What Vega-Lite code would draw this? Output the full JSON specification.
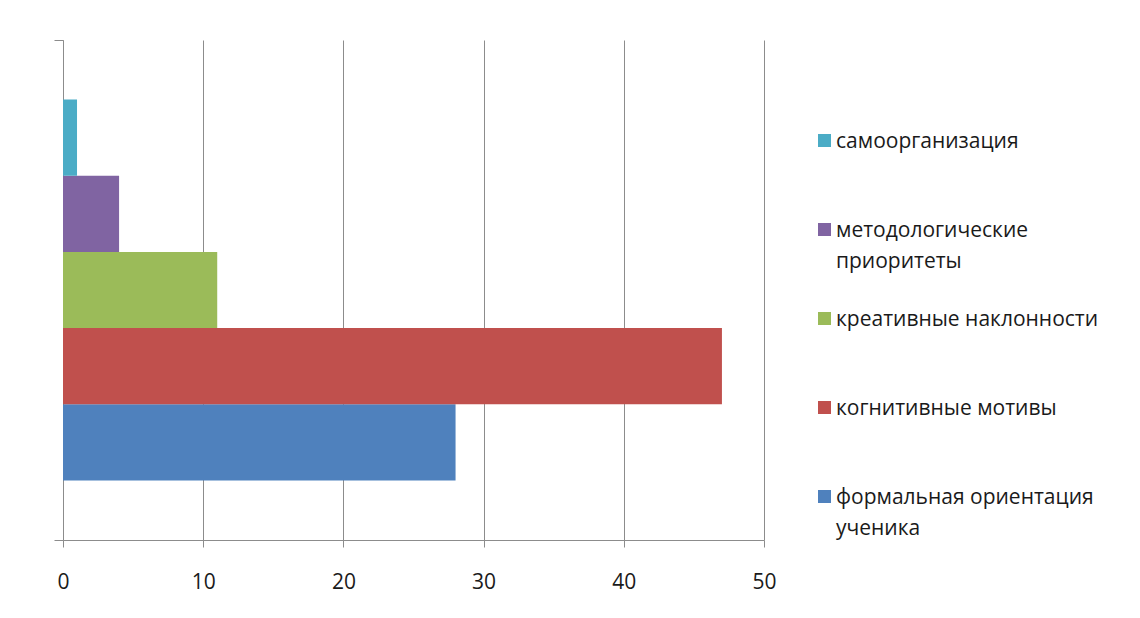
{
  "$schema": "https://vega.github.io/schema/vega-lite/v6.json",
  "width": 701,
  "height": 500,
  "padding": {"left": 53, "top": 39, "right": 0, "bottom": 5},
  "autosize": {"type": "pad"},
  "background": "white",
  "config": {
    "font": "Open Sans",
    "view": {"stroke": null}
  },
  "data": {
    "values": [
      {"grp": "all", "series": "формальная ориентация ученика", "value": 28},
      {"grp": "all", "series": "когнитивные мотивы", "value": 47},
      {"grp": "all", "series": "креативные наклонности", "value": 11},
      {"grp": "all", "series": "методологические приоритеты", "value": 4},
      {"grp": "all", "series": "самоорганизация", "value": 1}
    ]
  },
  "mark": {"type": "bar"},
  "encoding": {
    "x": {
      "field": "value",
      "type": "quantitative",
      "scale": {"domain": [0, 50], "nice": false},
      "axis": {
        "values": [0, 10, 20, 30, 40, 50],
        "title": null,
        "grid": true,
        "gridColor": "#8c8c8c",
        "gridWidth": 1,
        "domainColor": "#8c8c8c",
        "tickColor": "#8c8c8c",
        "tickSize": 7,
        "labelPadding": 24,
        "labelFontSize": 21,
        "labelColor": "#1a1a1a",
        "labelFont": "Open Sans",
        "labelFlush": false
      }
    },
    "y": {
      "field": "grp",
      "type": "nominal",
      "scale": {"paddingInner": 0, "paddingOuter": 0},
      "axis": {
        "title": null,
        "labels": false,
        "tickBand": "extent",
        "tickSize": 9,
        "tickColor": "#8c8c8c",
        "domainColor": "#8c8c8c"
      }
    },
    "yOffset": {
      "field": "series",
      "type": "nominal",
      "sort": ["самоорганизация", "методологические приоритеты", "креативные наклонности", "когнитивные мотивы", "формальная ориентация ученика"],
      "scale": {"paddingInner": 0, "paddingOuter": 0.78}
    },
    "color": {
      "field": "series",
      "type": "nominal",
      "sort": ["самоорганизация", "методологические приоритеты", "креативные наклонности", "когнитивные мотивы", "формальная ориентация ученика"],
      "scale": {
        "domain": ["самоорганизация", "методологические приоритеты", "креативные наклонности", "когнитивные мотивы", "формальная ориентация ученика"],
        "range": ["#4BACC6", "#8064A2", "#9BBB59", "#C0504D", "#4F81BD"]
      },
      "legend": {
        "title": null,
        "orient": "none",
        "legendX": 751,
        "legendY": 90,
        "symbolType": "square",
        "symbolSize": 169,
        "symbolStrokeWidth": 0,
        "symbolOpacity": 1,
        "labelFontSize": 21,
        "labelColor": "#1a1a1a",
        "labelFont": "Open Sans",
        "labelOffset": 1,
        "labelLimit": 400,
        "labelBaseline": "top",
        "labelExpr": "datum.label == 'методологические приоритеты' ? ['методологические', 'приоритеты'] : datum.label == 'формальная ориентация ученика' ? ['формальная ориентация', 'ученика'] : [datum.label, '']",
        "rowPadding": 36,
        "encode": {
          "labels": {"update": {"lineHeight": {"value": 31}, "dy": {"value": -10}}}
        }
      }
    }
  }
}
